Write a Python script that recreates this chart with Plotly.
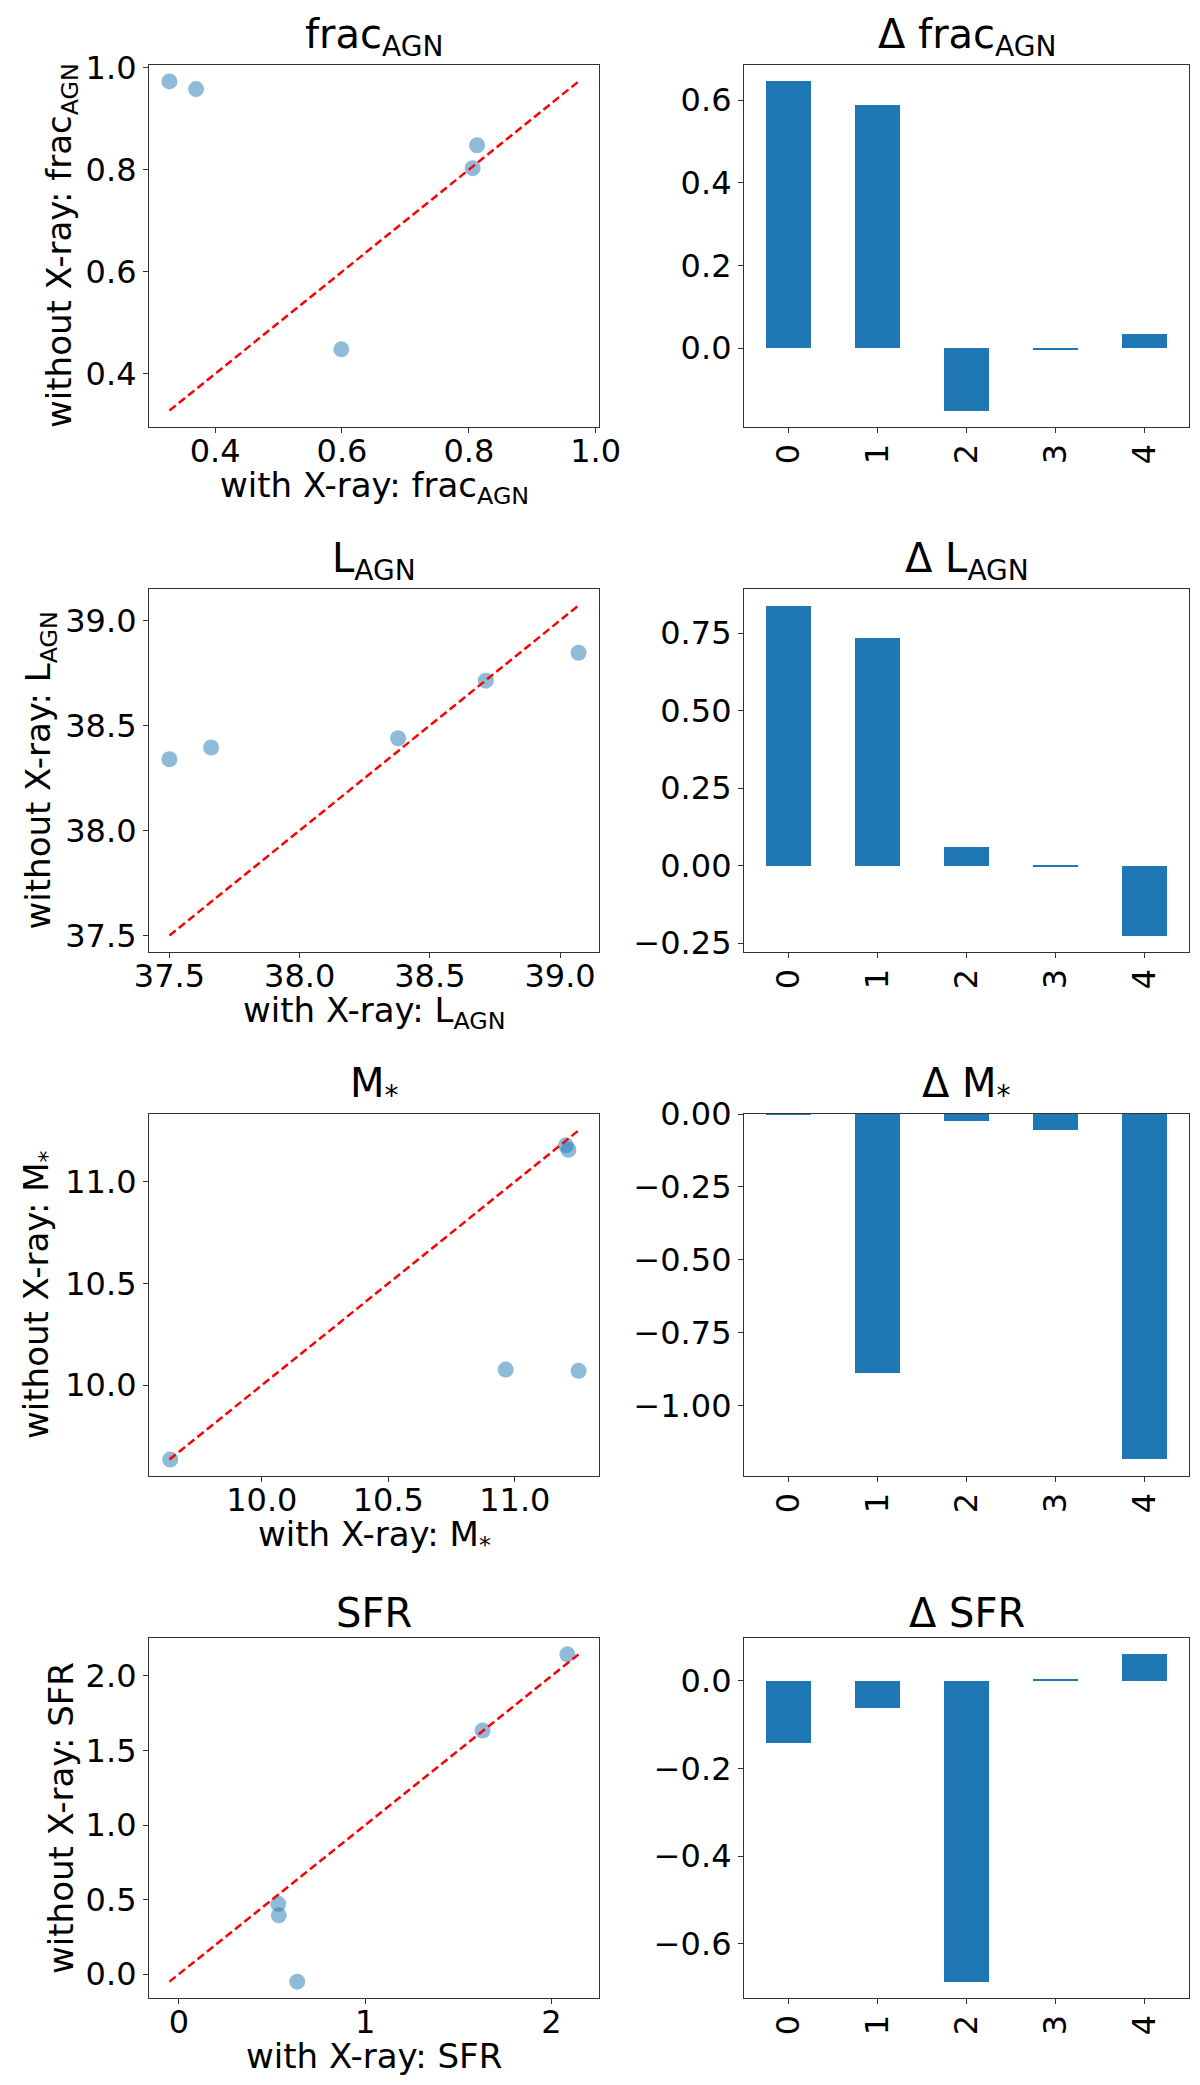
import plotly.graph_objects as go

# values (with / without X-ray fits, 5 sources)
frac_with = [0.328, 0.370, 0.599, 0.806, 0.813]
frac_without = [0.973, 0.958, 0.448, 0.803, 0.848]

lagn_with = [37.500, 37.660, 38.378, 38.715, 39.071]
lagn_without = [38.339, 38.395, 38.439, 38.713, 38.846]

mass_with = [9.638, 10.964, 11.202, 11.212, 11.252]
mass_without = [9.635, 10.077, 11.179, 11.157, 10.071]

sfr_with = [0.536, 0.533, 0.635, 1.630, 2.085]
sfr_without = [0.394, 0.471, -0.051, 1.634, 2.145]

source_ids = [0, 1, 2, 3, 4]
tick_labels = ["0", "1", "2", "3", "4"]

quantities = ["frac<sub>AGN</sub>", "L<sub>AGN</sub>", "M<sub>*</sub>", "SFR"]

W, H = 1200, 2085
FONT = "DejaVu Sans"
BLUE = "#1f77b4"

# frame positions in pixels
left_x = (141, 591)
right_x = (736, 1181)
rows_y = [(57, 419), (581, 944), (1106, 1468), (1630, 1990)]
ylabel_cx = [54, 32, 30, 53]

# tick settings per row: (scatter dtick x, scatter dtick y, fmt x, fmt y, bar dtick, bar fmt)
tick_cfg = [
    (0.2, 0.2, ".1f", ".1f", 0.2, ".1f"),
    (0.5, 0.5, ".1f", ".1f", 0.25, ".2f"),
    (0.5, 0.5, ".1f", ".1f", 0.25, ".2f"),
    (1, 0.5, ".0f", ".1f", 0.2, ".1f"),
]

datasets = [
    (frac_with, frac_without),
    (lagn_with, lagn_without),
    (mass_with, mass_without),
    (sfr_with, sfr_without),
]


def px_x(p):
    return p / W


def px_y(p):
    return 1 - p / H


base_axis = dict(
    showline=True, linecolor="#333333", linewidth=1.2, mirror=True,
    ticks="outside", ticklen=5, tickwidth=1.1, tickcolor="#333333",
    showgrid=False, zeroline=False, automargin=False,
    tickfont=dict(family=FONT, size=32, color="black"),
)

fig = go.Figure()
annotations = []
layout_axes = {}

for i, ((xw, yw), name) in enumerate(zip(datasets, quantities)):
    top, bot = rows_y[i]
    dom_y = [px_y(bot), px_y(top)]
    dtx, dty, fx, fy, dtb, fb = tick_cfg[i]
    sa = 2 * i + 1
    ba = 2 * i + 2
    sx = "x" if sa == 1 else f"x{sa}"
    sy = "y" if sa == 1 else f"y{sa}"
    bx = f"x{ba}"
    by = f"y{ba}"

    # scatter + 1:1 line
    lo = min(xw + yw)
    hi = max(xw + yw)
    pad = 0.05 * (hi - lo)
    fig.add_trace(go.Scatter(
        x=xw, y=yw, mode="markers", xaxis=sx, yaxis=sy,
        marker=dict(size=16, color=BLUE, opacity=0.5, line=dict(width=0)),
        showlegend=False,
    ))
    fig.add_trace(go.Scatter(
        x=[lo, hi], y=[lo, hi], mode="lines", xaxis=sx, yaxis=sy,
        line=dict(color="red", width=2.5, dash="8px,4px"),
        showlegend=False,
    ))
    layout_axes["xaxis" if sa == 1 else f"xaxis{sa}"] = dict(
        base_axis, domain=[px_x(left_x[0]), px_x(left_x[1])], anchor=sy,
        range=[lo - pad, hi + pad], dtick=dtx, tickformat=fx, ticklabelstandoff=-10)
    layout_axes["yaxis" if sa == 1 else f"yaxis{sa}"] = dict(
        base_axis, domain=dom_y, anchor=sx,
        range=[lo - pad, hi + pad], dtick=dty, tickformat=fy)

    # difference bars
    delta = [b - a for a, b in zip(xw, yw)]
    dlo = min(0, min(delta))
    dhi = max(0, max(delta))
    dpad = 0.05 * (dhi - dlo)
    rlo = dlo if dlo == 0 else dlo - dpad
    rhi = dhi if dhi == 0 else dhi + dpad
    fig.add_trace(go.Bar(
        x=source_ids, y=delta, width=0.5, xaxis=bx, yaxis=by,
        marker=dict(color=BLUE, line=dict(width=0)), showlegend=False,
    ))
    layout_axes[f"xaxis{ba}"] = dict(
        base_axis, domain=[px_x(right_x[0]), px_x(right_x[1])], anchor=by,
        range=[-0.5, 4.5], tickvals=source_ids, ticktext=tick_labels, tickangle=-90,
        ticklabelstandoff=-2)
    layout_axes[f"yaxis{ba}"] = dict(
        base_axis, domain=dom_y, anchor=bx,
        range=[rlo, rhi], dtick=dtb, tickformat=fb)

    # titles and axis labels
    tfont = dict(family=FONT, size=40, color="black")
    lfont = dict(family=FONT, size=34, color="black")
    annotations.append(dict(
        text=name, x=px_x(sum(left_x) / 2), y=px_y(top), xref="paper", yref="paper",
        xanchor="center", yanchor="bottom", showarrow=False, font=tfont))
    annotations.append(dict(
        text="Δ " + name, x=px_x(sum(right_x) / 2), y=px_y(top), xref="paper", yref="paper",
        xanchor="center", yanchor="bottom", showarrow=False, font=tfont))
    annotations.append(dict(
        text="with X-ray: " + name, x=px_x(sum(left_x) / 2), y=px_y(bot + 36),
        xref="paper", yref="paper", xanchor="center", yanchor="top",
        showarrow=False, font=lfont))
    annotations.append(dict(
        text="without X-ray: " + name, x=px_x(ylabel_cx[i]), y=px_y((top + bot) / 2),
        xref="paper", yref="paper", xanchor="center", yanchor="middle", textangle=-90,
        showarrow=False, font=lfont))

fig.update_layout(
    width=W, height=H,
    margin=dict(l=0, r=0, t=0, b=0, autoexpand=False),
    paper_bgcolor="white", plot_bgcolor="white",
    font=dict(family=FONT, color="black"),
    annotations=annotations,
    bargap=0,
    **layout_axes,
)

fig.write_html("out.html")
